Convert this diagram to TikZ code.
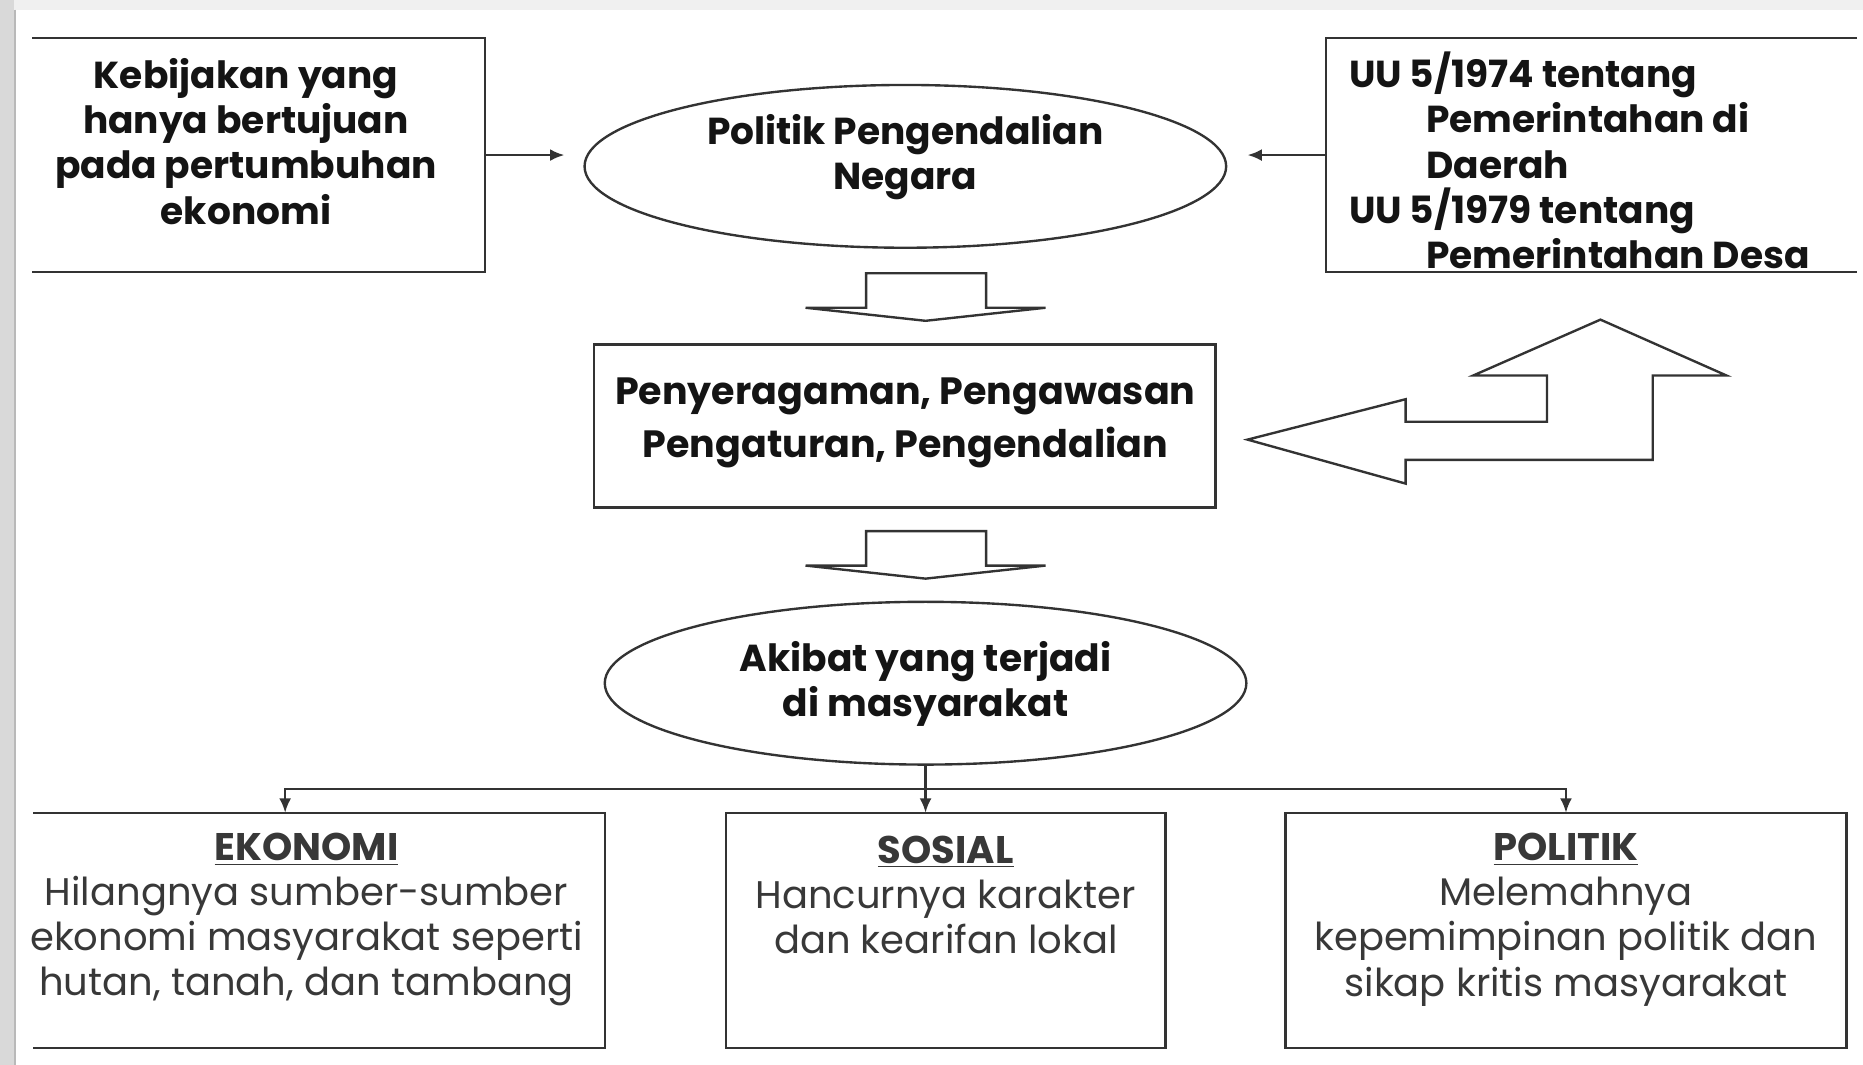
\documentclass[tikz,border=0pt]{standalone}
\usepackage{fontspec}
\setmainfont{Poppins}
\usetikzlibrary{arrows.meta, shapes.geometric, fit}

\newcommand{\judul}[1]{\underline{\textbf{#1}}}

\begin{document}
\begin{tikzpicture}[x=0.5pt, y=-0.5pt, >={Latex[length=6pt, width=5pt]},
    garis/.style={draw=black!80, line width=1pt},
    kotak/.style={inner sep=0pt, outer sep=0pt},
    elips/.style={ellipse, draw=black!80, line width=1pt, inner sep=0pt, outer sep=0pt,
        minimum width=270pt, minimum height=68.5pt},
    blok/.style={draw=black!80, line width=1pt, fill=white, line join=miter},
    tebal/.style={font=\bfseries\fontsize{15.8}{19}\selectfont, align=center, inner sep=0pt, text=black!92},
    biasa/.style={font=\fontsize{16.2}{19}\selectfont, align=center, inner sep=0pt, text=black!78}]
    \useasboundingbox (0,0) rectangle (1568,896);

    % Tepi layar
    \fill[gray!12] (0,0) rectangle (1568,8);
    \fill[gray!30] (0,0) rectangle (12,896);
    \draw[gray!55, line width=0.8pt] (12.5,8) -- (12.5,896);

    % --- BARIS ATAS ---
    \node[kotak, fit={(27,32) (408,229)}] (kebijakan) {};
    \draw[garis] (kebijakan.north west) -- (kebijakan.north east) -- (kebijakan.south east) -- (kebijakan.south west);
    \node[tebal] (kebijakan-teks) at (207,119) {Kebijakan yang\\hanya bertujuan\\pada pertumbuhan\\ekonomi};

    \node[elips] (pengendalian) at (762,140) {};
    \node[tebal] (pengendalian-teks) at (762,132) {Politik Pengendalian\\Negara};

    \node[kotak, fit={(1116,32) (1563,229)}] (uu) {};
    \draw[garis] (uu.north east) -- (uu.north west) -- (uu.south west) -- (uu.south east);
    \node[tebal, align=left, anchor=west] (uu-teks) at (1135,135)
        {UU 5/1974 tentang\\\hspace*{32.5pt}Pemerintahan di\\\hspace*{32.5pt}Daerah\\UU 5/1979 tentang\\\hspace*{32.5pt}Pemerintahan Desa};

    % panah ke elips atas
    \draw[garis, ->, shorten >=8.5pt] (kebijakan.east) -- (kebijakan.east -| pengendalian.west);
    \draw[garis, ->, shorten >=9pt] (uu.west) -- (uu.west -| pengendalian.east);

    % --- PANAH BLOK KE BAWAH ---
    \foreach \y in {230,447}
        \draw[blok] (729,\y) -- (830,\y) -- (830,\y+29) -- (880,\y+29) -- (779,\y+40)
            -- (678,\y+29) -- (729,\y+29) -- cycle;

    % --- KOTAK TENGAH ---
    \node[kotak, garis, fit={(500,290) (1023,427)}] (seragam) {};
    \node[tebal, font=\bfseries\fontsize{16}{22.5}\selectfont] (seragam-teks) at (762,356)
        {Penyeragaman, Pengawasan\\Pengaturan, Pengendalian};

    % panah bengkok (balik ke atas)
    \draw[blok] (1050,370) -- (1183,336) -- (1183,355) -- (1302,355) -- (1302,316) -- (1240,316)
        -- (1347,269) -- (1453,316) -- (1391,316) -- (1391,387) -- (1183,387) -- (1183,407) -- cycle;

    \node[elips] (akibat) at (779,575) {};
    \node[tebal] (akibat-teks) at (779,575.5) {Akibat yang terjadi\\di masyarakat};

    % --- BARIS BAWAH ---
    \node[kotak, fit={(28,684) (509,882)}] (ekonomi) {};
    \draw[garis] (ekonomi.north west) -- (ekonomi.north east) -- (ekonomi.south east) -- (ekonomi.south west);
    \node[kotak, garis, fit={(611,684) (981,882)}] (sosial) {};
    \node[kotak, garis, fit={(1082,684) (1554,882)}] (politik) {};

    \node[biasa] (ekonomi-teks) at (258,774)
        {\judul{EKONOMI}\\Hilangnya sumber-sumber\\ekonomi masyarakat seperti\\hutan, tanah, dan tambang};
    \node[biasa] (sosial-teks) at (796,753)
        {\judul{SOSIAL}\\Hancurnya karakter\\dan kearifan lokal};
    \node[biasa] (politik-teks) at (1318,774)
        {\judul{POLITIK}\\Melemahnya\\kepemimpinan politik dan\\sikap kritis masyarakat};

    % cabang ke tiga kotak
    \coordinate (cabang) at (779,664);
    \draw[garis, ->] (akibat.south) -- (akibat.south |- sosial.north);
    \draw[garis, ->] (cabang) -| ([xshift=-14.25pt]ekonomi.north);
    \draw[garis, ->] (cabang) -| (politik.north);
\end{tikzpicture}
\end{document}
